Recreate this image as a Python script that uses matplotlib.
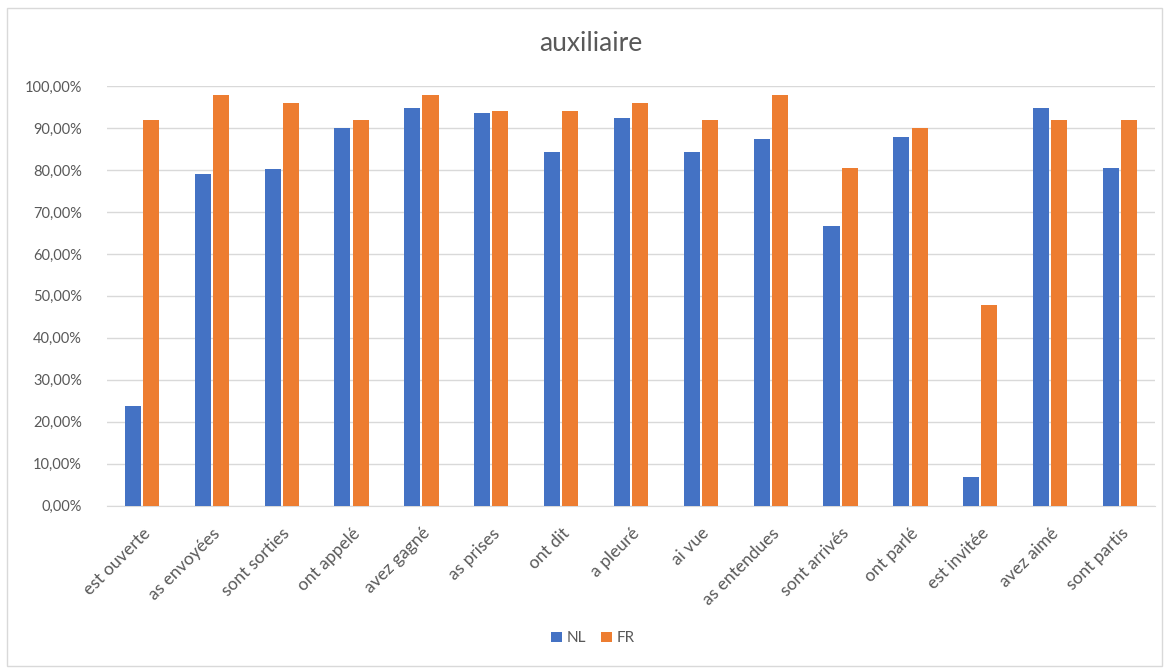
import matplotlib.pyplot as plt
import numpy as np
from matplotlib.patches import Rectangle
from matplotlib.ticker import FuncFormatter

# Data
verbs = ['est ouverte', 'as envoyées', 'sont sorties', 'ont appelé', 'avez gagné',
         'as prises', 'ont dit', 'a pleuré', 'ai vue', 'as entendues',
         'sont arrivés', 'ont parlé', 'est invitée', 'avez aimé', 'sont partis']
nl = [23.8, 79.0, 80.2, 90.0, 94.7, 93.6, 84.4, 92.4, 84.4, 87.4, 66.7, 87.8, 6.9, 94.7, 80.5]
fr = [92.0, 97.8, 95.9, 92.0, 97.8, 94.0, 94.0, 95.9, 92.0, 97.8, 80.5, 90.0, 47.9, 92.0, 92.0]

plt.rcParams['font.family'] = ['Lato', 'DejaVu Sans']
grey = '#595959'

fig = plt.figure(figsize=(11.67, 6.69), dpi=100)
fig.patches.append(Rectangle((0.006, 0.004), 0.99, 0.984, transform=fig.transFigure,
                             fill=False, edgecolor='#D9D9D9', linewidth=1))
ax = fig.add_axes([0.0917, 0.2441, 0.898, 0.6273])

x = np.arange(len(verbs))
w = 0.23
ax.bar(x - 0.13, nl, width=w, color='#4472C4', label='NL', zorder=3)
ax.bar(x + 0.13, fr, width=w, color='#ED7D31', label='FR', zorder=3)

ax.set_xlim(-0.5, len(verbs) - 0.5)
ax.set_ylim(0, 100)
ax.set_yticks(np.arange(0, 101, 10))
ax.yaxis.set_major_formatter(FuncFormatter(lambda v, p: f'{v:.2f}'.replace('.', ',') + '%'))
ax.grid(axis='y', color='#D9D9D9', linewidth=1, zorder=0)
for s in ['top', 'right', 'left']:
    ax.spines[s].set_visible(False)
ax.spines['bottom'].set_color('#D9D9D9')
ax.tick_params(length=0, colors=grey)
ax.tick_params(axis='y', pad=18, labelsize=10.5)
ax.tick_params(axis='x', pad=14, labelsize=12.5)
ax.set_xticks(x)
ax.set_xticklabels(verbs, rotation=45, ha='right', rotation_mode='anchor')

fig.text(0.506, 0.935, 'auxiliaire', ha='center', va='center', fontsize=19, color=grey)
fig.legend(loc='center', bbox_to_anchor=(0.508, 0.046), ncol=2, frameon=False,
           handlelength=0.7, handleheight=0.7, handletextpad=0.3, columnspacing=1.0,
           fontsize=11, labelcolor=grey)

fig.savefig('out.png', dpi=100)
